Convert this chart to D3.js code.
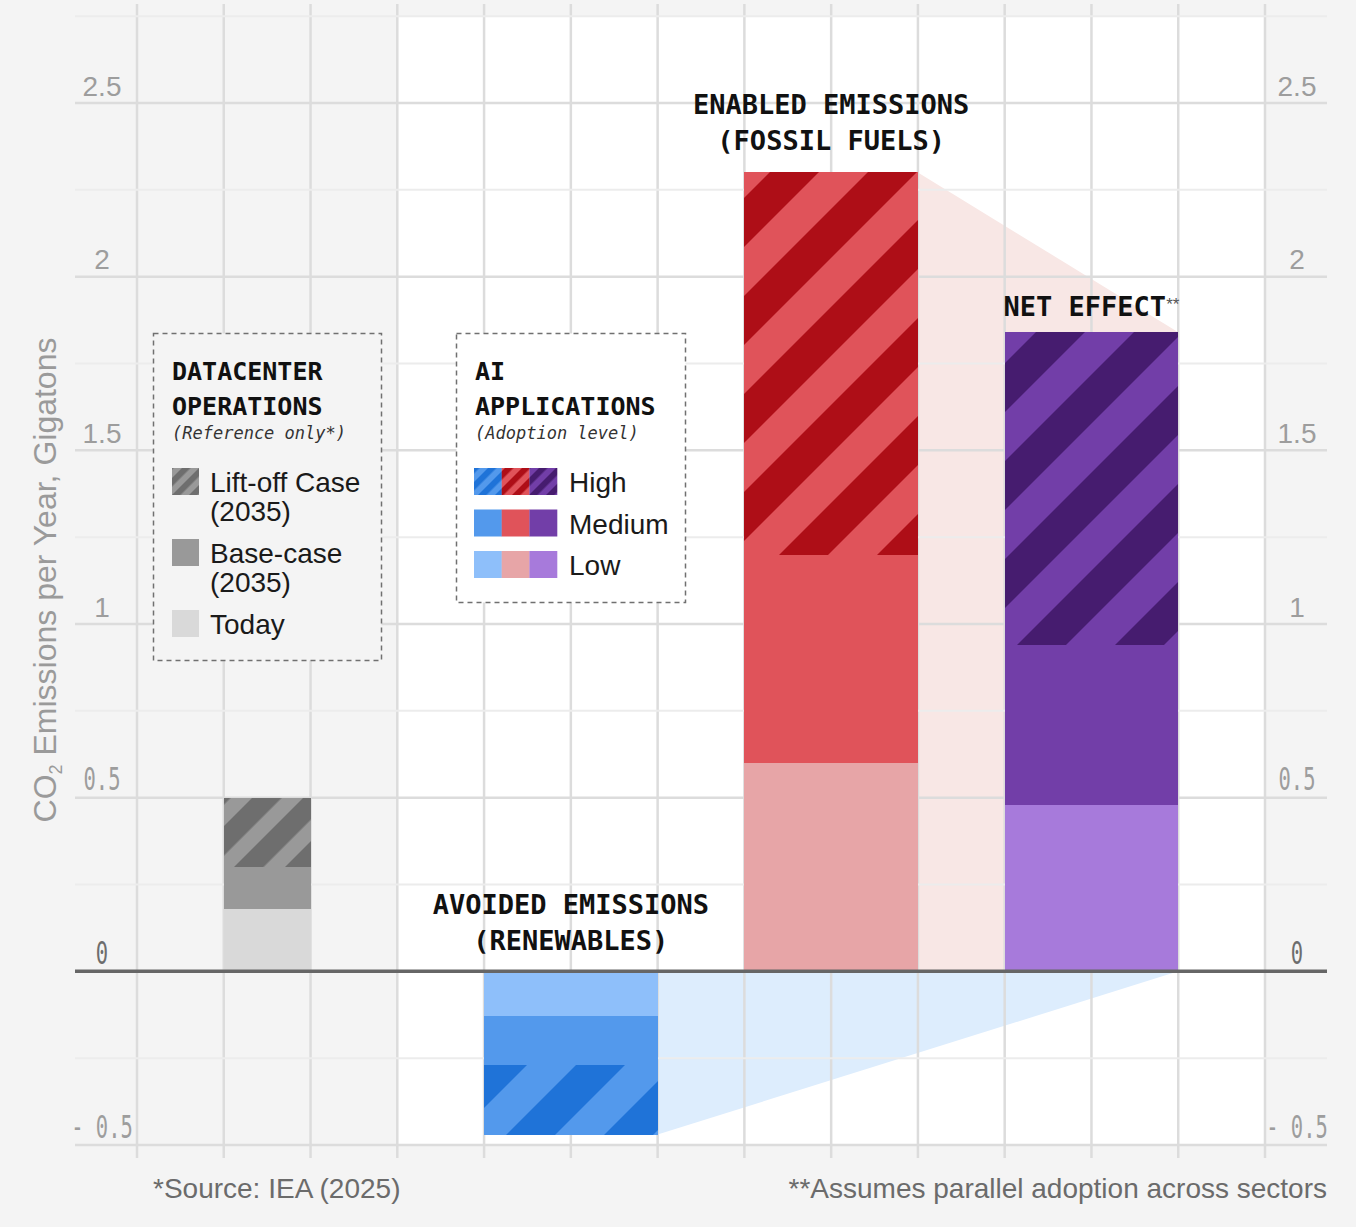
<!DOCTYPE html>
<html>
<head>
<meta charset="utf-8">
<script src="https://cdn.jsdelivr.net/npm/d3@7"></script>
<style>
body { margin: 0; background: #f4f4f4; }
svg { display: block; }
</style>
</head>
<body>
<script>
// values, Gt CO2 per year
var levels = ["Low", "Medium", "High"];
var avoided = [-0.13, -0.14, -0.20];
var enabled = [0.60, 0.60, 1.10];
var netEffect = [0.48, 0.46, 0.90];
var dcCases = ["Today", "Base-case (2035)", "Lift-off Case (2035)"];
var dcValues = [0.18, 0.12, 0.20];
var yTicks = [-0.5, 0, 0.5, 1, 1.5, 2, 2.5];

var MONO = '"DejaVu Sans Mono", "Liberation Mono", monospace';
var SANS = '"Liberation Sans", Arial, Helvetica, sans-serif';

var WIDTH = 1356, HEIGHT = 1227;

var svg = d3.select("body").append("svg")
	.attr("width", WIDTH)
	.attr("height", HEIGHT);

// grid columns 0..13, square cells
var x = d3.scaleLinear().domain([0, 13]).range([137, 1265]);
var y = d3.scaleLinear().domain([-0.5, 2.5]).range([1145, 103]);

var cols = { DATACENTER: [1, 2], AVOIDED: [4, 6], ENABLED: [7, 9], NET: [10, 12] };

var palette = {
	DATACENTER: ["#d9d9d9", "#999999", "#6e6e6e"],
	AVOIDED: ["#8ebffa", "#5399ec", "#1f73d8"],
	ENABLED: ["#e7a5a7", "#e0535a", "#ae0e17"],
	NET: ["#a77adb", "#723ea8", "#461c6f"]
};

var defs = svg.append("defs");

var hatch = function(id, base, dark, period, frac, phase) {
	var w = period / Math.SQRT2;
	var p = defs.append("pattern")
		.attr("id", id)
		.attr("patternUnits", "userSpaceOnUse")
		.attr("width", w)
		.attr("height", w)
		.attr("patternTransform", "translate(" + phase + ",0) rotate(45)");
	p.append("rect").attr("width", w).attr("height", w).attr("fill", base);
	p.append("rect").attr("width", w * frac).attr("height", w).attr("fill", dark);
};

hatch("hatch-DATACENTER", palette.DATACENTER[1], palette.DATACENTER[2], 51, 0.58, 30);
hatch("hatch-AVOIDED", palette.AVOIDED[1], palette.AVOIDED[2], 98, 0.5, 73);
hatch("hatch-ENABLED", palette.ENABLED[1], palette.ENABLED[2], 98, 0.5, 60);
hatch("hatch-NET", palette.NET[1], palette.NET[2], 98, 0.5, 94);
// small versions for the legend swatches
for (var k in palette) {
	hatch("swatch-" + k, palette[k][1], palette[k][2], 17, 0.5, 4);
}

// white panel
svg.append("rect")
	.attr("x", x(3)).attr("y", y(2.75))
	.attr("width", x(13) - x(3))
	.attr("height", y(-0.5) - y(2.75))
	.attr("fill", "#ffffff");

// connector shapes
var area = d3.line().x(function(d) { return x(d[0]); }).y(function(d) { return y(d[1]); });
var enabledTop = d3.sum(enabled), netTop = d3.sum(netEffect), avoidedBottom = d3.sum(avoided);

svg.append("path")
	.attr("d", area([[cols.ENABLED[1], enabledTop], [cols.NET[1], netTop], [cols.NET[1], 0], [cols.ENABLED[1], 0]]) + "Z")
	.attr("fill", "#f8e7e5");
svg.append("path")
	.attr("d", area([[cols.AVOIDED[1], 0], [cols.NET[1], 0], [cols.AVOIDED[1], avoidedBottom]]) + "Z")
	.attr("fill", "#ddedfd");

// grid
var grid = svg.append("g");
grid.selectAll("line.v")
	.data(d3.range(0, 14))
	.join("line")
	.attr("x1", function(d) { return x(d); })
	.attr("x2", function(d) { return x(d); })
	.attr("y1", 4)
	.attr("y2", 1158)
	.attr("stroke", "#dcdcdc")
	.attr("stroke-width", 2.5);

var hVals = d3.range(-2, 12).map(function(d) { return d / 4; });
grid.selectAll("line.h")
	.data(hVals)
	.join("line")
	.attr("x1", 75)
	.attr("x2", 1327)
	.attr("y1", function(d) { return y(d); })
	.attr("y2", function(d) { return y(d); })
	.attr("stroke", function(d) { return (d * 2) % 1 === 0 ? "#dcdcdc" : "#ececec"; })
	.attr("stroke-width", function(d) { return (d * 2) % 1 === 0 ? 2.5 : 2; });

// stacked bars
var drawStack = function(key, vals) {
	var cum = Array.from(d3.cumsum(vals));
	var starts = [0].concat(cum.slice(0, -1));
	var c = cols[key];
	svg.append("g")
		.attr("shape-rendering", "crispEdges")
		.selectAll("rect")
		.data(vals)
		.join("rect")
		.attr("x", x(c[0]))
		.attr("width", x(c[1]) - x(c[0]))
		.attr("y", function(d, i) { return y(Math.max(starts[i], cum[i])); })
		.attr("height", function(d, i) { return Math.abs(y(starts[i]) - y(cum[i])); })
		.attr("fill", function(d, i) { return i === 2 ? "url(#hatch-" + key + ")" : palette[key][i]; });
};

drawStack("DATACENTER", dcValues);
drawStack("AVOIDED", avoided);
drawStack("ENABLED", enabled);
drawStack("NET", netEffect);

// zero line
svg.append("line")
	.attr("x1", 75).attr("x2", 1327)
	.attr("y1", y(0)).attr("y2", y(0))
	.attr("stroke", "#666666")
	.attr("stroke-width", 3.5);

// tick labels, both sides
var fmt = function(d) { return d < 0 ? "- " + Math.abs(d) : String(d); };
var tickLabels = function(cx, axisFn) {
	var g = svg.append("g")
		.attr("transform", "translate(" + cx + ",0)")
		.call(axisFn(y).tickValues(yTicks).tickSize(0).tickFormat(fmt));
	g.select(".domain").remove();
	g.selectAll(".tick text")
		.attr("x", 0)
		.attr("dy", -8)
		.attr("text-anchor", "middle")
		.each(function(d) {
			var t = d3.select(this);
			var lbl = fmt(d);
			if (lbl.indexOf("0") >= 0) {
				t.attr("font-family", MONO).attr("font-size", 32).attr("transform", "scale(0.64,1)");
			} else {
				t.attr("font-family", SANS).attr("font-size", 28);
			}
			t.attr("fill", d === 0 ? "#6d6d6d" : "#9d9d9d");
		});
};
tickLabels(102, d3.axisLeft);
tickLabels(1297, d3.axisRight);

// y axis title
var yt = svg.append("text")
	.attr("transform", "translate(56,580) rotate(-90)")
	.attr("text-anchor", "middle")
	.attr("font-family", SANS)
	.attr("font-size", 32)
	.attr("fill", "#9a9a9a");
yt.append("tspan").text("CO");
yt.append("tspan").attr("font-size", 18).attr("dy", 6).text("2");
yt.append("tspan").attr("dy", -6).text(" Emissions per Year, Gigatons");

// bar titles
var barTitle = function(key, lines, baseVal, gap, stars) {
	var c = cols[key];
	var cx = (x(c[0]) + x(c[1])) / 2;
	var last = y(baseVal) - gap;
	lines.forEach(function(line, i) {
		var t = svg.append("text")
			.attr("x", cx)
			.attr("y", last - (lines.length - 1 - i) * 36)
			.attr("text-anchor", "middle")
			.attr("font-family", MONO)
			.attr("font-weight", "bold")
			.attr("font-size", 27)
			.attr("fill", "#111111")
			.text(line);
		if (stars && i === lines.length - 1) {
			t.append("tspan")
				.attr("font-family", SANS)
				.attr("font-weight", "normal")
				.attr("font-size", 17)
				.attr("fill", "#555555")
				.attr("dy", -6)
				.text("**");
		}
	});
};
barTitle("ENABLED", ["ENABLED EMISSIONS", "(FOSSIL FUELS)"], enabledTop, 22, false);
barTitle("NET", ["NET EFFECT"], netTop, 16, true);
barTitle("AVOIDED", ["AVOIDED EMISSIONS", "(RENEWABLES)"], 0, 21, false);

// legends
var legendBox = function(bx, by, bw, bh, fill, title, sub) {
	var g = svg.append("g");
	g.append("rect")
		.attr("x", bx + 0.5).attr("y", by + 0.5)
		.attr("width", bw).attr("height", bh)
		.attr("fill", fill)
		.attr("stroke", "#707070")
		.attr("stroke-width", 1.5)
		.attr("stroke-dasharray", "5,4");
	title.forEach(function(line, i) {
		g.append("text")
			.attr("x", bx + 19).attr("y", by + 47 + i * 35)
			.attr("font-family", MONO).attr("font-weight", "bold")
			.attr("font-size", 25).attr("fill", "#111111")
			.text(line);
	});
	g.append("text")
		.attr("x", bx + 19).attr("y", by + 106)
		.attr("font-family", MONO).attr("font-style", "italic")
		.attr("font-size", 17).attr("fill", "#333333")
		.text(sub);
	return g;
};

var lg1 = legendBox(153, 333, 228, 327, "#f4f4f4", ["DATACENTER", "OPERATIONS"], "(Reference only*)");
var dcOrder = [2, 1, 0];
dcOrder.forEach(function(idx, row) {
	var ty = 468 + row * 71;
	lg1.append("rect")
		.attr("x", 172).attr("y", ty).attr("width", 27).attr("height", 27)
		.attr("fill", idx === 2 ? "url(#swatch-DATACENTER)" : palette.DATACENTER[idx]);
	var lines = dcCases[idx].replace(" (", "\n(").split("\n");
	lines.forEach(function(line, j) {
		lg1.append("text")
			.attr("x", 210).attr("y", ty + 24 + j * 29)
			.attr("font-family", SANS).attr("font-size", 28)
			.attr("fill", "#1a1a1a")
			.text(line);
	});
});

var lg2 = legendBox(456, 333, 229, 269, "#ffffff", ["AI", "APPLICATIONS"], "(Adoption level)");
var sw = ["AVOIDED", "ENABLED", "NET"];
[2, 1, 0].forEach(function(lvl, row) {
	var ty = 468 + row * 41.5;
	sw.forEach(function(key, j) {
		lg2.append("rect")
			.attr("x", 474 + j * 27.7).attr("y", ty)
			.attr("width", 27.9).attr("height", 27)
			.attr("fill", lvl === 2 ? "url(#swatch-" + key + ")" : palette[key][lvl]);
	});
	lg2.append("text")
		.attr("x", 569).attr("y", ty + 24)
		.attr("font-family", SANS).attr("font-size", 28)
		.attr("fill", "#1a1a1a")
		.text(levels[lvl]);
});

// footnotes
svg.append("text")
	.attr("x", 153).attr("y", 1198)
	.attr("font-family", SANS).attr("font-size", 28)
	.attr("fill", "#6b6b6b")
	.text("*Source: IEA (2025)");
svg.append("text")
	.attr("x", 1327).attr("y", 1198)
	.attr("text-anchor", "end")
	.attr("font-family", SANS).attr("font-size", 28)
	.attr("fill", "#6b6b6b")
	.text("**Assumes parallel adoption across sectors");
</script>
</body>
</html>
